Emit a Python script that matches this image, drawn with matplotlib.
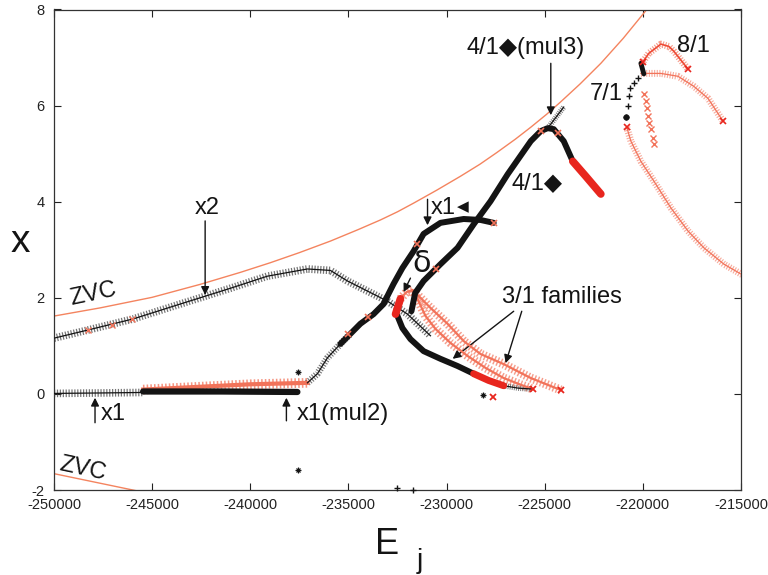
import matplotlib
matplotlib.use('Agg')
import matplotlib.pyplot as plt

plt.rcParams['font.family'] = ['Liberation Sans', 'DejaVu Sans']
plt.rcParams['axes.unicode_minus'] = False

BLACK = '#141414'
RED = '#e8261e'
SALMON = '#f2735a'
ZVC_COLOR = '#f4845f'

# zero velocity curves
zvc_E = [-250000, -247650, -245000, -242550, -240500, -238980, -237500, -235920,
         -234500, -233370, -232500, -231680, -230500, -229290, -228300, -227450,
         -226500, -225710, -224900, -224180, -223200, -222140, -221000, -220000,
         -219300]
zvc_x = [1.62, 1.79, 2.01, 2.28, 2.53, 2.73, 2.94, 3.18, 3.42, 3.62, 3.79, 3.97,
         4.24, 4.53, 4.78, 5.02, 5.30, 5.55, 5.82, 6.08, 6.45, 6.88, 7.40, 7.90,
         8.25]
zvc_low_E = [-250000, -245400]
zvc_low_x = [-1.66, -2.05]

# x2 family
x2_E = [-250000, -248270, -245970, -243570, -241000, -239130, -237090, -235920,
        -235050, -234030, -233010, -231990, -230820]
x2_x = [1.16, 1.33, 1.56, 1.87, 2.20, 2.45, 2.60, 2.57, 2.35, 2.14, 1.93, 1.66, 1.21]
x2_red_E = [-248270, -247040, -246020]
x2_red_x = [1.33, 1.43, 1.56]

# x1 family
x1_low_E = [-250000, -247500, -245460]
x1_low_x = [0.01, 0.02, 0.03]
mul2_E = [-245460, -241500, -237600]
mul2_x = [0.05, 0.05, 0.04]
x1_band_E = [-245460, -242500, -240000, -237090]
x1_band_x = [0.09, 0.15, 0.20, 0.23]
x1_rise_E = [-237090, -236580, -236070, -235410, -234900]
x1_rise_x = [0.23, 0.42, 0.75, 1.04, 1.25]
x1_arc_E = [-235410, -234900, -234390, -233720, -233210, -232960, -232700, -232250,
            -231680, -231170, -230310, -229130, -228270, -227600]
x1_arc_x = [1.04, 1.25, 1.46, 1.66, 1.87, 2.08, 2.29, 2.62, 2.97, 3.33, 3.56, 3.64,
            3.62, 3.56]
x1_red_E = [-235000, -233980, -231530, -227600]
x1_red_x = [1.25, 1.60, 3.12, 3.56]

# 4/1 family
f41_E = [-231790, -231600, -231170, -230310, -229440, -228620, -227760, -226890,
         -226070, -225710, -225200, -224850, -224540, -224030, -223570]
f41_x = [1.72, 2.10, 2.35, 2.70, 3.04, 3.53, 4.01, 4.57, 5.05, 5.26, 5.47, 5.53,
         5.51, 5.26, 4.84]
f41_red_E = [-223570, -222910, -222140]
f41_red_x = [4.84, 4.53, 4.16]
f41_marks_E = [-225200, -224340, -230560]
f41_marks_x = [5.47, 5.43, 2.60]
mul3_E = [-224850, -224440, -224030]
mul3_x = [5.53, 5.75, 5.97]

# delta family
delta_red_E = [-232600, -232350]
delta_red_x = [1.66, 1.98]
delta_E = [-232520, -232250, -231840, -231170, -230310, -229440, -228620]
delta_x = [1.64, 1.37, 1.14, 0.89, 0.73, 0.58, 0.42]
delta_end_red_E = [-228620, -227860, -227090]
delta_end_red_x = [0.42, 0.28, 0.17]
delta_tail_E = [-227090, -226350, -225610]
delta_tail_x = [0.17, 0.12, 0.10]

# 3/1 families
f31_out_E = [-232350, -232040, -231740, -231330, -230820, -229950, -229130, -228270,
             -227090, -225710, -224180]
f31_out_x = [1.98, 2.12, 2.16, 2.00, 1.79, 1.46, 1.10, 0.83, 0.62, 0.33, 0.08]
f31_in_E = [-231740, -231430, -231070, -230560, -229800, -228930, -228010, -227090,
            -226220, -225610]
f31_in_x = [2.16, 1.93, 1.62, 1.35, 1.06, 0.79, 0.54, 0.33, 0.19, 0.10]
f31_end_E = [-224180, -225610, -227650]
f31_end_x = [0.08, 0.10, -0.06]

# 7/1 and 8/1 families
f71_pts_E = [-220260, -220460, -220660, -220710, -220770, -220870]
f71_pts_x = [6.57, 6.47, 6.36, 6.20, 5.99, 5.76]
f71_core_E = [-220100, -219950]
f71_core_x = [6.88, 6.66]
f71_low_E = [-220820, -220610, -220100, -219440, -218570, -217700, -216890, -215870,
             -214900]
f71_low_x = [5.55, 5.26, 4.84, 4.43, 3.87, 3.39, 3.04, 2.70, 2.47]
f71_mid_E = [-220100, -219080, -218210, -217400, -216680, -215920]
f71_mid_x = [6.67, 6.67, 6.61, 6.40, 6.15, 5.68]
f71_drop_E = [-219950, -219850, -219800, -219750, -219690, -219590, -219490, -219440]
f71_drop_x = [6.24, 6.09, 5.95, 5.78, 5.63, 5.51, 5.32, 5.20]
f81_E = [-220050, -219690, -219080, -218670, -218420, -217700]
f81_x = [6.88, 7.09, 7.28, 7.23, 7.13, 6.76]
f71_ends_E = [-220820, -215920, -217700, -220000]
f71_ends_x = [5.55, 5.68, 6.76, 6.90]

# isolated orbits
iso_star_E = [-237550, -237550, -228160]
iso_star_x = [0.46, -1.58, -0.02]
iso_plus_E = [-232550, -231730]
iso_plus_x = [-1.95, -1.99]


def hatched(ax, E, x, core, hatch, width=5.0, alpha=0.55, core_lw=0.9, z=3):
    # dense perpendicular ticks along the curve, like a packed marker series
    ax.plot(E, x, color=hatch, lw=width, alpha=alpha, ls=(0, (0.16, 0.22)),
            solid_capstyle='butt', zorder=z)
    ax.plot(E, x, color=core, lw=core_lw, zorder=z + 0.1)


def thick(ax, E, x, color, lw=4.3, z=4):
    ax.plot(E, x, color=color, lw=lw, solid_capstyle='round', zorder=z)


fig = plt.figure(figsize=(7.68, 5.75), dpi=100)
ax = fig.add_axes([54 / 768, 1 - 490 / 575, 687 / 768, 480.5 / 575])

ax.plot(zvc_E, zvc_x, color=ZVC_COLOR, lw=1.0, zorder=2)
ax.plot(zvc_low_E, zvc_low_x, color=ZVC_COLOR, lw=1.0, zorder=2)

hatched(ax, x2_E, x2_x, BLACK, '#3a3a3a', width=5.5, alpha=0.7)
ax.plot(x2_red_E, x2_red_x, 'x', color=SALMON, ms=4, mew=1, zorder=5)

hatched(ax, x1_low_E, x1_low_x, BLACK, '#3a3a3a', width=5.5, alpha=0.7)
hatched(ax, x1_band_E, x1_band_x, SALMON, SALMON, width=7, alpha=0.75, core_lw=3)
thick(ax, mul2_E, mul2_x, BLACK, lw=4.5)
hatched(ax, x1_rise_E, x1_rise_x, BLACK, '#3a3a3a', width=5, alpha=0.7)
thick(ax, x1_arc_E, x1_arc_x, BLACK)
ax.plot(x1_red_E, x1_red_x, 'x', color=SALMON, ms=5, mew=1.2, zorder=6)

hatched(ax, f31_out_E, f31_out_x, SALMON, SALMON, width=6.5, alpha=0.7, core_lw=1.6)
hatched(ax, f31_in_E, f31_in_x, SALMON, SALMON, width=6.5, alpha=0.7, core_lw=1.6)

thick(ax, f41_E, f41_x, BLACK)
thick(ax, f41_red_E, f41_red_x, RED, lw=5.5)
ax.plot(f41_marks_E, f41_marks_x, 'x', color=SALMON, ms=5, mew=1.2, zorder=6)
hatched(ax, mul3_E, mul3_x, BLACK, '#3a3a3a', width=4, alpha=0.7)

thick(ax, delta_red_E, delta_red_x, RED, lw=5.5, z=5)
thick(ax, delta_E, delta_x, BLACK)
thick(ax, delta_end_red_E, delta_end_red_x, RED, lw=5)
hatched(ax, delta_tail_E, delta_tail_x, BLACK, '#3a3a3a', width=4, alpha=0.7)
ax.plot(f31_end_E, f31_end_x, 'x', color=RED, ms=5, mew=1.3, zorder=6)

hatched(ax, f71_low_E, f71_low_x, SALMON, SALMON, width=5, alpha=0.6, core_lw=0.9)
hatched(ax, f71_mid_E, f71_mid_x, SALMON, SALMON, width=5, alpha=0.6, core_lw=0.9)
hatched(ax, f81_E, f81_x, '#ee4a35', SALMON, width=5, alpha=0.7, core_lw=1.2)
ax.plot(f71_drop_E, f71_drop_x, 'x', color=SALMON, ms=4.5, mew=1, zorder=5)
ax.plot(f71_pts_E, f71_pts_x, '+', color=BLACK, ms=5, mew=1, zorder=6)
ax.plot(f71_pts_E[-1:], f71_pts_x[-1:], 'o', color=BLACK, ms=3.5, zorder=6)
thick(ax, f71_core_E, f71_core_x, BLACK, lw=3.5, z=6)
ax.plot(f71_ends_E, f71_ends_x, 'x', color=RED, ms=4.5, mew=1.2, zorder=6)

ax.plot(iso_star_E, iso_star_x, 'x', color=BLACK, ms=3.5, mew=0.9, zorder=6)
ax.plot(iso_star_E, iso_star_x, '+', color=BLACK, ms=4, mew=0.9, zorder=6)
ax.plot(iso_plus_E, iso_plus_x, '+', color=BLACK, ms=4.5, mew=1, zorder=6,
        clip_on=False)

ax.set_xlim(-250000, -215000)
ax.set_ylim(-2, 8)
ax.set_xticks(range(-250000, -214999, 5000))
ax.set_yticks(range(-2, 9, 2))
ax.tick_params(direction='in', top=True, right=True, length=5, width=0.8,
               labelsize=10.5, colors='#222222')
ax.tick_params(axis='x', pad=6)
ax.tick_params(axis='y', pad=7)
for sp in ax.spines.values():
    sp.set_linewidth(0.9)
    sp.set_color('#333333')

# annotations
lab = dict(fontsize=17, color=BLACK, zorder=8)
arrow = dict(arrowstyle='-|>', color=BLACK, lw=1.0, mutation_scale=12,
             shrinkA=0, shrinkB=0)

ax.text(-248010, 2.08, 'ZVC', ha='center', va='center', rotation=12, **lab)
ax.text(-248520, -1.56, 'ZVC', ha='center', va='center', rotation=-12, **lab)

ax.text(-242200, 3.87, 'x2', ha='center', va='center', **lab)
ax.annotate('', xy=(-242300, 2.06), xytext=(-242300, 3.60), arrowprops=arrow)

ax.text(-247600, -0.42, 'x1', ha='left', va='center', **lab)
ax.annotate('', xy=(-247910, -0.08), xytext=(-247910, -0.60), arrowprops=arrow)

ax.text(-237650, -0.42, 'x1(mul2)', ha='left', va='center', **lab)
ax.annotate('', xy=(-238160, -0.08), xytext=(-238160, -0.56), arrowprops=arrow)

ax.text(-230800, 3.87, 'x1', ha='left', va='center', **lab)
ax.text(-229150, 3.89, '\u25c0', ha='center', va='center', fontsize=11,
        family='DejaVu Sans', color=BLACK, zorder=8)
ax.annotate('', xy=(-230970, 3.51), xytext=(-230970, 4.05), arrowprops=arrow)

ax.text(-231280, 2.72, '\u03b4', ha='center', va='center', fontsize=22,
        family=['Liberation Sans Narrow', 'DejaVu Sans'], color=BLACK, zorder=8)
ax.annotate('', xy=(-232190, 2.12), xytext=(-231840, 2.41), arrowprops=arrow)

ax.text(-224130, 2.02, '3/1 families', ha='center', va='center', **lab)
ax.annotate('', xy=(-229690, 0.73), xytext=(-226580, 1.72), arrowprops=arrow)
ax.annotate('', xy=(-226990, 0.64), xytext=(-226170, 1.72), arrowprops=arrow)

ax.text(-225410, 4.39, '4/1\u25c6', ha='center', va='center', **lab)
ax.text(-225970, 7.19, '4/1\u25c6(mul3)', ha='center', va='center', **lab)
ax.annotate('', xy=(-224690, 5.80), xytext=(-224690, 6.88), arrowprops=arrow)

ax.text(-221840, 6.24, '7/1', ha='center', va='center', **lab)
ax.text(-217400, 7.23, '8/1', ha='center', va='center', **lab)

# axis labels
fig.text(20 / 768, 1 - 242 / 575, 'x', fontsize=28, ha='center', va='center',
         color=BLACK)
fig.text(387 / 768, 1 - 545 / 575, 'E', fontsize=26, ha='center', va='center',
         color=BLACK)
fig.text(420 / 768, 1 - 561 / 575, 'j', fontsize=20, ha='center', va='center',
         color=BLACK)

fig.savefig('out.png', dpi=100)
